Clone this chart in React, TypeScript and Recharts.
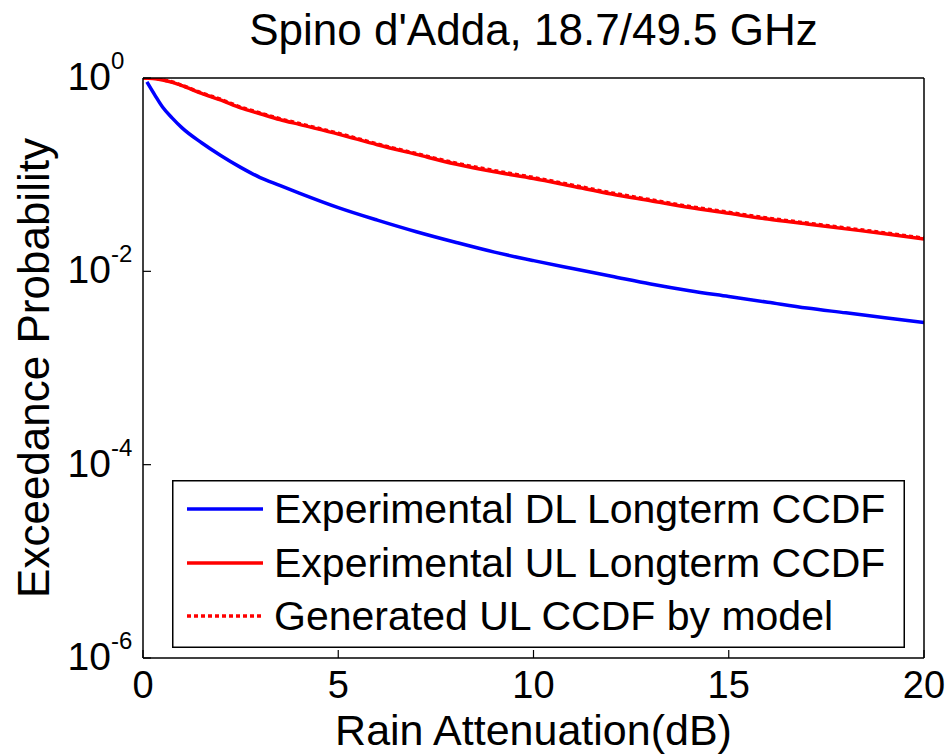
import React from "react";
import { LineChart, Line, XAxis, YAxis, Legend } from "recharts";

// Rain attenuation (dB) sample points and exceedance probabilities
const dlX = [0.1, 0.3, 0.5, 0.75, 1, 1.5, 2, 2.5, 3, 3.5, 4, 5, 6, 7, 8, 9, 10, 11, 12, 13, 14, 15, 16, 17, 18, 19, 20];
const dlP = [0.912, 0.67, 0.501, 0.385, 0.305, 0.214, 0.157, 0.119, 0.0933, 0.0776, 0.0646, 0.0457, 0.0339, 0.0257, 0.02, 0.0158, 0.0129, 0.0107, 0.00891, 0.00741, 0.00631, 0.0055, 0.00479, 0.00417, 0.00372, 0.00331, 0.00295];

const ulX = [0, 0.25, 0.5, 0.75, 1, 1.5, 2, 2.5, 3, 3.5, 4, 5, 6, 7, 8, 9, 10, 11, 12, 13, 14, 15, 16, 17, 18, 19, 20];
const ulP = [1.0, 0.99, 0.955, 0.9, 0.832, 0.692, 0.589, 0.49, 0.427, 0.372, 0.331, 0.263, 0.204, 0.162, 0.129, 0.107, 0.0912, 0.0759, 0.0631, 0.0537, 0.0457, 0.0398, 0.0347, 0.0309, 0.0275, 0.0245, 0.0216];

const genX = [0, 0.25, 0.5, 0.75, 1, 1.5, 2, 2.5, 3, 3.5, 4, 5, 6, 7, 8, 9, 10, 11, 12, 13, 14, 15, 16, 17, 18, 19, 20];
const genP = [1.0, 0.995, 0.96, 0.91, 0.84, 0.7, 0.6, 0.5, 0.435, 0.38, 0.338, 0.268, 0.208, 0.165, 0.132, 0.11, 0.0935, 0.078, 0.0648, 0.055, 0.0468, 0.0408, 0.0355, 0.0316, 0.0281, 0.025, 0.022];

const xTicks = [0, 5, 10, 15, 20];
const yTicks = [1, 1e-2, 1e-4, 1e-6];
const yExponents = ["0", "-2", "-4", "-6"];

const seriesNames = [
  "Experimental DL Longterm CCDF",
  "Experimental UL Longterm CCDF",
  "Generated UL CCDF by model",
];
const titleText = "Spino d'Adda, 18.7/49.5 GHz";
const xLabel = "Rain Attenuation(dB)";
const yLabel = "Exceedance Probability";

const toRows = (xs: number[], ps: number[]) => xs.map((x, i) => ({ x, p: ps[i] }));
const dlData = toRows(dlX, dlP);
const ulData = toRows(ulX, ulP);
const genData = toRows(genX, genP);

const FONT = "'Liberation Sans', Arial, Helvetica, sans-serif";

const XTick = (props: any) => {
  const { x, y, payload } = props;
  return (
    <text x={x} y={y + 26} textAnchor="middle" fontSize={38} fontFamily={FONT} fill="#000">
      {payload.value}
    </text>
  );
};

const YTick = (props: any) => {
  const { x, y, payload } = props;
  const idx = yTicks.findIndex((t) => Math.abs(Math.log10(t) - Math.log10(payload.value)) < 1e-6);
  const exp = idx >= 0 ? yExponents[idx] : "";
  return (
    <g>
      <text x={x} y={y + 12} textAnchor="end" fontSize={39} fontFamily={FONT} fill="#000">
        10
      </text>
      <text x={x} y={y - 9} textAnchor="start" fontSize={24} fontFamily={FONT} fill="#000">
        {exp}
      </text>
    </g>
  );
};

const LegendBox = (props: any) => {
  const items = props.payload || [];
  const w = 733;
  const h = 168;
  const rows = [29, 83, 136];
  return (
    <svg width={w} height={h} style={{ display: "block" }}>
      <rect x={0.75} y={0.75} width={w - 1.5} height={h - 1.5} fill="#fff" stroke="#000" strokeWidth={1.5} />
      {items.map((it: any, i: number) => (
        <g key={i}>
          <line
            x1={15}
            x2={91}
            y1={rows[i]}
            y2={rows[i]}
            stroke={it.color}
            strokeWidth={3.5}
            strokeDasharray={it.payload && it.payload.strokeDasharray ? it.payload.strokeDasharray : undefined}
          />
          <text x={102} y={rows[i] + 14} fontSize={41} fontFamily={FONT} fill="#000">
            {it.value}
          </text>
        </g>
      ))}
    </svg>
  );
};

export default function App() {
  return (
    <div style={{ position: "absolute", left: 0, top: 0, width: 952, height: 756, background: "#fff" }}>
      <div
        style={{
          position: "absolute",
          left: 143,
          width: 781,
          top: 8,
          textAlign: "center",
          fontFamily: FONT,
          fontSize: 44,
          lineHeight: "44px",
          color: "#000",
          whiteSpace: "nowrap",
        }}
      >
        {titleText}
      </div>
      <LineChart width={952} height={756} margin={{ top: 77, right: 27, bottom: 0, left: 0 }}>
        <XAxis
          dataKey="x"
          type="number"
          domain={[0, 20]}
          ticks={xTicks}
          height={98}
          allowDataOverflow
          axisLine={{ stroke: "#000", strokeWidth: 1.5 }}
          tickLine={{ stroke: "#000", strokeWidth: 1.2 }}
          tickSize={-8}
          tickMargin={22}
          tick={<XTick />}
          label={{
            content: (p: any) => {
              const vb = p.viewBox || {};
              return (
                <text
                  x={vb.x + vb.width / 2}
                  y={vb.y + 87}
                  textAnchor="middle"
                  fontSize={43}
                  fontFamily={FONT}
                  fill="#000"
                >
                  {xLabel}
                </text>
              );
            },
          }}
        />
        <XAxis
          xAxisId="top"
          orientation="top"
          dataKey="x"
          type="number"
          domain={[0, 20]}
          ticks={xTicks}
          height={1}
          axisLine={{ stroke: "#000", strokeWidth: 1.5 }}
          tickLine={{ stroke: "#000", strokeWidth: 1.2 }}
          tickSize={-8}
          tick={false}
        />
        <YAxis
          type="number"
          scale="log"
          domain={[1e-6, 1]}
          ticks={yTicks}
          allowDataOverflow
          width={143}
          axisLine={{ stroke: "#000", strokeWidth: 1.5 }}
          tickLine={{ stroke: "#000", strokeWidth: 1.2 }}
          tickSize={-8}
          tickMargin={40}
          tick={<YTick />}
          label={{
            content: (p: any) => {
              const vb = p.viewBox || {};
              const cx = vb.x + 33;
              const cy = vb.y + vb.height / 2;
              return (
                <text
                  x={cx}
                  y={cy}
                  transform={`rotate(-90 ${cx} ${cy})`}
                  textAnchor="middle"
                  dominantBaseline="central"
                  fontSize={44}
                  fontFamily={FONT}
                  fill="#000"
                >
                  {yLabel}
                </text>
              );
            },
          }}
        />
        <YAxis
          yAxisId="right"
          orientation="right"
          type="number"
          scale="log"
          domain={[1e-6, 1]}
          ticks={yTicks}
          allowDataOverflow
          width={1}
          axisLine={{ stroke: "#000", strokeWidth: 1.5 }}
          tickLine={{ stroke: "#000", strokeWidth: 1.2 }}
          tickSize={-8}
          tick={false}
        />
        <Legend
          layout="vertical"
          align="center"
          verticalAlign="middle"
          content={<LegendBox />}
          wrapperStyle={{ position: "absolute", left: 172, top: 480, width: 733, height: 168 }}
        />
        <Line
          data={dlData}
          dataKey="p"
          type="monotone"
          name={seriesNames[0]}
          stroke="#0000ff"
          strokeWidth={3.5}
          dot={false}
          isAnimationActive={false}
        />
        <Line
          data={ulData}
          dataKey="p"
          type="monotone"
          name={seriesNames[1]}
          stroke="#ff0000"
          strokeWidth={3.5}
          dot={false}
          isAnimationActive={false}
        />
        <Line
          data={genData}
          dataKey="p"
          type="monotone"
          name={seriesNames[2]}
          stroke="#ff0000"
          strokeWidth={3.5}
          strokeDasharray="4 3"
          dot={false}
          isAnimationActive={false}
        />
      </LineChart>
    </div>
  );
}
